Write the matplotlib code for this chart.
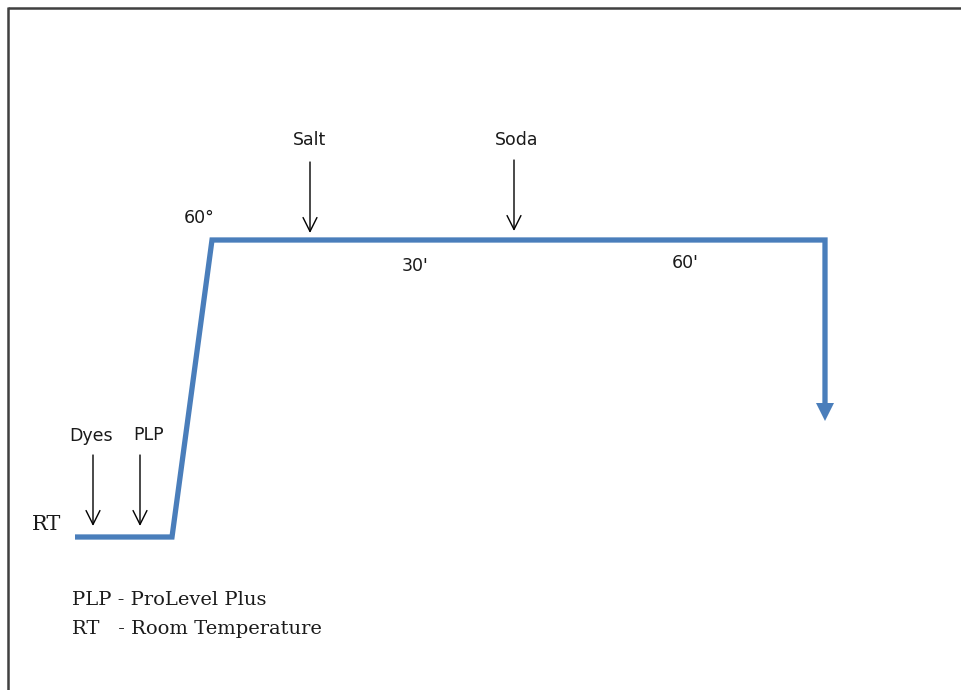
import matplotlib.pyplot as plt

# process profile (pixel coords of the picture, y down)
profile_x = [75, 172, 212, 825, 825]
profile_y = [537, 537, 240, 240, 408]
end_arrow = (825, 412)

# dosing arrows: label, x, label y, arrow top, arrow bottom
dose_labels = ["Dyes", "PLP", "Salt", "Soda"]
dose_x = [93, 140, 310, 514]
dose_label_x = [91, 149, 310, 517]
dose_label_y = [436, 435, 140, 140]
dose_top = [455, 455, 162, 160]
dose_bottom = [526, 526, 233, 231]

# other labels
step_labels = ["60°", "30'", "60'"]
step_x = [199, 415, 685]
step_y = [218, 266, 263]

legend_lines = ["PLP - ProLevel Plus", "RT   - Room Temperature"]
legend_y = [600, 629]

blue = "#4a7ebb"

fig = plt.figure(figsize=(9.62, 6.90), dpi=100)
ax = fig.add_axes([0, 0, 1, 1])
ax.set_xlim(0, 962)
ax.set_ylim(690, 0)
ax.axis("off")

# frame (top and left only visible)
ax.plot([8, 962], [7.5, 7.5], color="#404040", lw=1.8, solid_capstyle="butt")
ax.plot([8, 8], [7, 690], color="#404040", lw=1.8, solid_capstyle="butt")

ax.plot(profile_x, profile_y, color=blue, lw=3.8, solid_joinstyle="miter",
        solid_capstyle="butt")
ax.plot(*end_arrow, marker="v", color=blue, markersize=13, markeredgewidth=0)

sans = "DejaVu Sans"
for lab, x, lx, ly, t, b in zip(dose_labels, dose_x, dose_label_x, dose_label_y,
                                dose_top, dose_bottom):
    ax.annotate("", xy=(x, b), xytext=(x, t),
                arrowprops=dict(arrowstyle="->,head_length=1.0,head_width=0.5",
                                color="black", lw=1.0, shrinkA=0, shrinkB=0))
    ax.text(lx, ly, lab, ha="center", va="center", fontsize=12.5,
            family=sans, color="#1a1a1a")

for lab, x, y in zip(step_labels, step_x, step_y):
    ax.text(x, y, lab, ha="center", va="center", fontsize=12.5,
            family=sans, color="#1a1a1a")

ax.text(32, 525, "RT", ha="left", va="center", fontsize=15,
        family="DejaVu Serif", color="#1a1a1a")

for line, y in zip(legend_lines, legend_y):
    ax.text(72, y, line, ha="left", va="center", fontsize=14,
            family="DejaVu Serif", color="#1a1a1a")

fig.savefig("out.png", dpi=100)
